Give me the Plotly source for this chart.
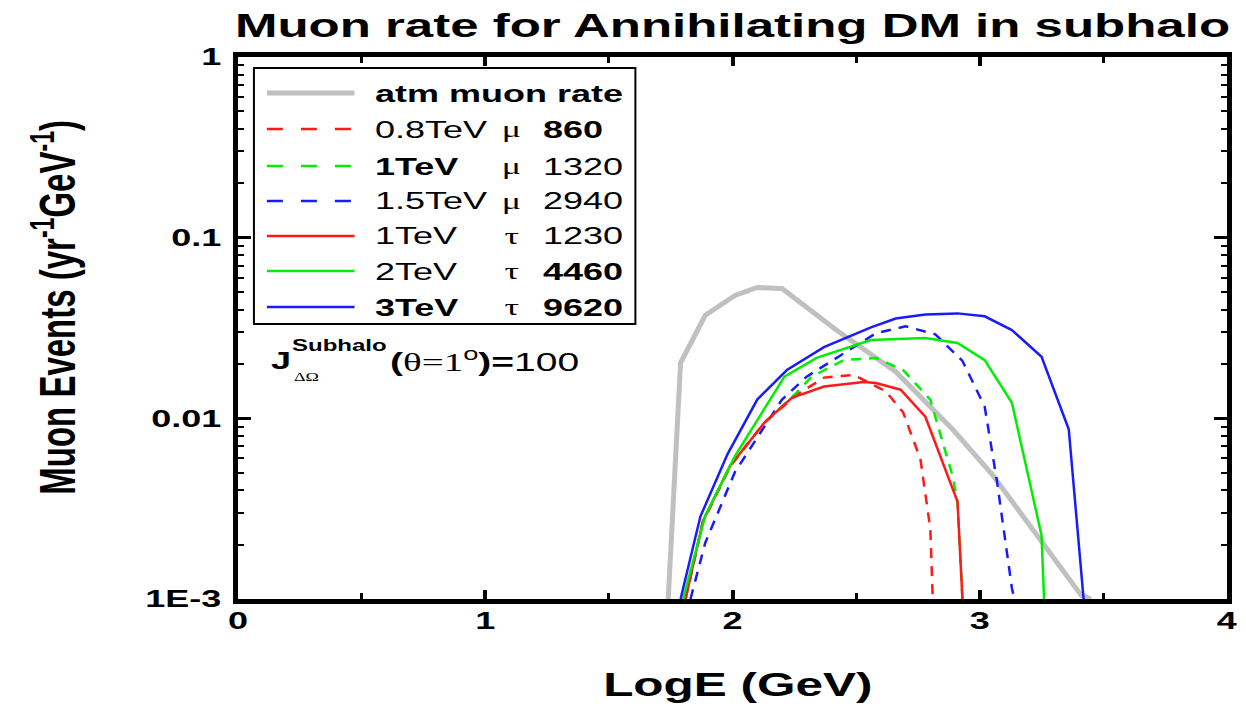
import plotly.graph_objects as go

# ---- data: muon event rate vs log10(E/GeV) ----
atm_loge = [1.74, 1.79, 1.89, 2.01, 2.10, 2.20, 2.42, 2.66, 2.89, 3.05, 3.41, 3.45]
atm_rate = [0.001, 0.0203, 0.0372, 0.0479, 0.0530, 0.0523, 0.0308, 0.0181, 0.0087, 0.0049, 0.00105, 0.001]

mu08_loge = [1.81, 1.88, 1.99, 2.13, 2.26, 2.37, 2.49, 2.62, 2.69, 2.76, 2.80, 2.81]
mu08_rate = [0.001, 0.00265, 0.0054, 0.0095, 0.0135, 0.0168, 0.0174, 0.0141, 0.0108, 0.00595, 0.00245, 0.001]

mu1_loge = [1.81, 1.88, 1.99, 2.13, 2.25, 2.32, 2.45, 2.58, 2.69, 2.80, 2.89, 2.91, 2.93]
mu1_rate = [0.001, 0.00269, 0.00545, 0.0095, 0.0135, 0.0170, 0.0210, 0.0216, 0.0185, 0.0127, 0.0048, 0.00346, 0.001]

mu15_loge = [1.83, 1.89, 2.01, 2.13, 2.20, 2.30, 2.47, 2.58, 2.70, 2.82, 2.93, 3.02, 3.07, 3.13, 3.14]
mu15_rate = [0.001, 0.00205, 0.00505, 0.00903, 0.0127, 0.0170, 0.0239, 0.0296, 0.0323, 0.0292, 0.0208, 0.0116, 0.00445, 0.00115, 0.001]

tau1_loge = [1.81, 1.88, 1.99, 2.13, 2.24, 2.37, 2.53, 2.58, 2.68, 2.78, 2.91, 2.93]
tau1_rate = [0.001, 0.00269, 0.00545, 0.0095, 0.0130, 0.0150, 0.0159, 0.0157, 0.0144, 0.0102, 0.00346, 0.001]

tau2_loge = [1.80, 1.89, 2.01, 2.21, 2.34, 2.56, 2.78, 2.91, 3.02, 3.13, 3.25, 3.26]
tau2_rate = [0.001, 0.0029, 0.00618, 0.0170, 0.0216, 0.0271, 0.0278, 0.0261, 0.0210, 0.0122, 0.00225, 0.001]

tau3_loge = [1.79, 1.87, 1.98, 2.10, 2.22, 2.37, 2.56, 2.66, 2.78, 2.91, 3.02, 3.13, 3.25, 3.36, 3.42]
tau3_rate = [0.001, 0.00286, 0.00634, 0.0127, 0.0185, 0.0248, 0.0319, 0.0357, 0.0376, 0.0381, 0.0367, 0.0308, 0.0219, 0.0087, 0.001]

# legend text: mass, channel, integrated events
legend_mass = ["<b>atm muon rate</b>", "0.8TeV", "<b>1TeV</b>", "1.5TeV", "1TeV", "2TeV", "<b>3TeV</b>"]
legend_chan = ["", "μ", "μ", "μ", "τ", "τ", "τ"]
legend_events = ["", "<b>860</b>", "1320", "2940", "1230", "<b>4460</b>", "<b>9620</b>"]

x_tickvals = [0, 1, 2, 3, 4]
y_tickvals = [0.001, 0.01, 0.1, 1]
y_ticktext = ["1E-3", "0.01", "0.1", "1"]

# ---- figure geometry (pixels) ----
W, H = 1246, 707
ML, MR, MT, MB = 238, 15, 57, 108
PW, PH = W - ML - MR, H - MT - MB
SANS = "Liberation Sans, Arial, sans-serif"
SERIF = "Liberation Serif, Times New Roman, serif"


def fx(p):
    return (p - ML) / PW


def fy(p):
    return (H - MB - p) / PH


RED, GREEN, BLUE, GRAY = "#ff1a1a", "#00ee00", "#1a1aff", "#c0c0c0"
styles = [
    (GRAY, 5, "solid"),
    (RED, 2.5, "10px,8px"),
    (GREEN, 2.5, "10px,8px"),
    (BLUE, 2.5, "10px,8px"),
    (RED, 2.5, "solid"),
    (GREEN, 2.5, "solid"),
    (BLUE, 2.5, "solid"),
]
series = [
    ("atm muon rate", atm_loge, atm_rate),
    ("0.8TeV mu", mu08_loge, mu08_rate),
    ("1TeV mu", mu1_loge, mu1_rate),
    ("1.5TeV mu", mu15_loge, mu15_rate),
    ("1TeV tau", tau1_loge, tau1_rate),
    ("2TeV tau", tau2_loge, tau2_rate),
    ("3TeV tau", tau3_loge, tau3_rate),
]

fig = go.Figure()
for (name, xs, ys), (col, lw, dash) in zip(series, styles):
    fig.add_trace(go.Scatter(x=xs, y=ys, mode="lines", name=name, showlegend=False,
                             line=dict(color=col, width=lw, dash=dash), hoverinfo="skip"))

shapes = []
annotations = []

# legend frame
shapes.append(dict(type="rect", xref="paper", yref="paper", x0=fx(254), x1=fx(637), y0=fy(68), y1=fy(324),
                   line=dict(color="black", width=2), fillcolor="white", layer="above"))
rows = [93, 129, 166, 201, 236, 271, 307]
for i, (col, lw, dash) in enumerate(styles):
    yy = fy(rows[i])
    shapes.append(dict(type="line", xref="paper", yref="paper", x0=fx(267), x1=fx(355), y0=yy, y1=yy,
                       line=dict(color=col, width=lw, dash="solid" if dash == "solid" else "16px,18px"),
                       layer="above"))
    annotations.append(dict(text=legend_mass[i], xref="paper", yref="paper", x=fx(374), y=yy,
                            xanchor="left", yanchor="middle", align="left", showarrow=False,
                            font=dict(family=SANS, size=24, color="black")))
    if legend_chan[i]:
        annotations.append(dict(text=legend_chan[i], xref="paper", yref="paper", x=fx(513), y=yy,
                                xanchor="center", yanchor="middle", showarrow=False,
                                font=dict(family=SERIF, size=24, color="black")))
        annotations.append(dict(text=legend_events[i], xref="paper", yref="paper", x=fx(542), y=yy,
                                xanchor="left", yanchor="middle", align="left", showarrow=False,
                                font=dict(family=SANS, size=24, color="black")))

# J-factor label
annotations.append(dict(text="<b>J</b>", xref="paper", yref="paper", x=fx(269), y=fy(360),
                        xanchor="left", yanchor="middle", align="left", showarrow=False,
                        font=dict(family=SANS, size=24, color="black")))
annotations.append(dict(text="<b>Subhalo</b>", xref="paper", yref="paper", x=fx(290), y=fy(345),
                        xanchor="left", yanchor="middle", align="left", showarrow=False,
                        font=dict(family=SANS, size=16, color="black")))
annotations.append(dict(text="ΔΩ", xref="paper", yref="paper", x=fx(292), y=fy(377),
                        xanchor="left", yanchor="middle", align="left", showarrow=False,
                        font=dict(family=SERIF, size=12, color="black")))
annotations.append(dict(text="<b>(</b><span style=\"font-family:Liberation Serif\">θ=1</span>"
                             "<sup>o</sup><b>)=</b>100",
                        xref="paper", yref="paper", x=fx(389), y=fy(360),
                        xanchor="left", yanchor="middle", align="left", showarrow=False,
                        font=dict(family=SANS, size=26, color="black")))

# axis titles
annotations.append(dict(text="<b>LogE (GeV)</b>", xref="paper", yref="paper", x=fx(740), y=fy(684),
                        xanchor="center", yanchor="middle", showarrow=False,
                        font=dict(family=SANS, size=33, color="black")))
annotations.append(dict(text="<b>Muon Events (yr<sup>-1</sup>GeV<sup>-1</sup>)</b>", xref="paper", yref="paper",
                        x=fx(53), y=fy(307), xanchor="center", yanchor="middle", textangle=-90,
                        showarrow=False, font=dict(family=SANS, size=33, color="black")))

y_minor = [m * 10.0 ** e for e in (-3, -2, -1) for m in range(2, 10)]

fig.update_layout(
    width=W, height=H,
    margin=dict(l=ML, r=MR, t=MT, b=MB, pad=0),
    paper_bgcolor="white", plot_bgcolor="white",
    showlegend=False,
    title=dict(text="<b>Muon rate for Annihilating DM in subhalo</b>", x=0.5, xref="paper", xanchor="center",
               y=1 - 25 / H, yref="container", yanchor="middle",
               font=dict(family=SANS, size=34, color="black")),
    xaxis=dict(range=[0, 4], showgrid=False, zeroline=False, showline=True, linewidth=5, linecolor="black",
               mirror="ticks", ticks="inside", ticklen=9, tickwidth=4, tickcolor="black",
               tickmode="array", tickvals=x_tickvals, ticktext=[str(v) for v in x_tickvals],
               tickfont=dict(family=SANS, size=24, color="black", weight="bold"), ticklabelstandoff=-4,
               minor=dict(tickmode="array", tickvals=[0.5, 1.5, 2.5, 3.5], ticks="inside", ticklen=6,
                          tickwidth=3, tickcolor="black", showgrid=False)),
    yaxis=dict(type="log", range=[-3, 0], showgrid=False, zeroline=False, showline=True, linewidth=5,
               linecolor="black", mirror="ticks", ticks="inside", ticklen=13, tickwidth=3, tickcolor="black",
               tickmode="array", tickvals=y_tickvals, ticktext=y_ticktext,
               tickfont=dict(family=SANS, size=24, color="black", weight="bold"), ticklabelstandoff=7,
               minor=dict(tickmode="array", tickvals=y_minor, ticks="inside", ticklen=6, tickwidth=2,
                          tickcolor="black", showgrid=False)),
    shapes=shapes,
    annotations=annotations,
)

# widen every text element horizontally (keeps its anchor point fixed)
stretch_js = """
(function(){
  var gd = document.getElementById('{plot_id}');
  if (!gd) return;
  var S = 1.5;
  var texts = gd.querySelectorAll('text');
  texts.forEach(function(t){
    if (t.getAttribute('data-wide')) return;
    var r = t.getBoundingClientRect();
    if (!r.width) return;
    var a = t.getAttribute('text-anchor') || 'start';
    var sx = a === 'end' ? r.right : (a === 'middle' ? (r.left + r.right) / 2 : r.left);
    var svg = t.ownerSVGElement;
    var M = t.parentNode.getScreenCTM();
    var Sm = svg.createSVGMatrix().translate(sx, 0).scaleNonUniform(S, 1).translate(-sx, 0);
    var T = M.inverse().multiply(Sm).multiply(M);
    var old = t.getAttribute('transform') || '';
    t.setAttribute('transform', 'matrix(' + [T.a, T.b, T.c, T.d, T.e, T.f].join(',') + ') ' + old);
    t.setAttribute('data-wide', '1');
  });
})();
"""

fig.write_html("out.html", post_script=stretch_js, config={"displayModeBar": False})
